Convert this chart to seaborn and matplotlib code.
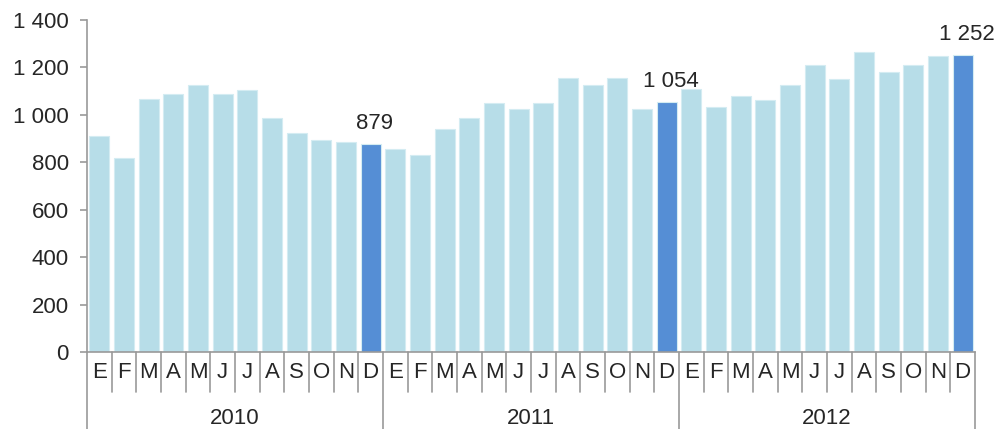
import matplotlib.pyplot as plt
import matplotlib.transforms as mtransforms
import pandas as pd
import seaborn as sns

years = ["2010", "2011", "2012"]
months = ["E", "F", "M", "A", "M", "J", "J", "A", "S", "O", "N", "D"]

values_2010 = [911, 818, 1065, 1088, 1126, 1088, 1103, 987, 924, 894, 886, 879]
values_2011 = [855, 831, 940, 987, 1049, 1026, 1049, 1157, 1126, 1157, 1026, 1054]
values_2012 = [1111, 1033, 1080, 1064, 1126, 1210, 1150, 1265, 1181, 1210, 1250, 1252]

light_blue = "#B7DDE8"
dark_blue = "#558ED5"
axis_grey = "#999999"

sns.set_style("white")
plt.rcParams["font.family"] = ["Liberation Sans", "DejaVu Sans"]
fs = 16

# tabla larga: una fila por mes
rows = []
for y, vals in zip(years, [values_2010, values_2011, values_2012]):
    for i, (m, v) in enumerate(zip(months, vals)):
        rows.append({"año": y, "mes": m, "valor": v,
                     "tipo": "dic" if i == 11 else "normal"})
df = pd.DataFrame(rows)
df["pos"] = [str(i) for i in range(len(df))]

fig = plt.figure(figsize=(9.98, 4.29), dpi=100)
ax = fig.add_axes([87 / 998, 77 / 429, (975 - 87) / 998, 332 / 429])

sns.barplot(
    data=df, x="pos", y="valor", hue="tipo",
    palette={"normal": light_blue, "dic": dark_blue}, saturation=1,
    dodge=False, width=0.8, legend=False, ax=ax,
    edgecolor="#D4ECF2", linewidth=0.8,
)

ax.set_xlim(-0.5, len(df) - 0.5)
ax.set_ylim(0, 1400)
ax.set_yticks(range(0, 1401, 200))
ax.set_yticklabels([f"{t:,}".replace(",", " ") for t in range(0, 1401, 200)], fontsize=fs)
ax.tick_params(axis="y", length=5, color=axis_grey, width=1.2, pad=8, left=True)
ax.set_xticks([])
ax.set_xlabel("")
ax.set_ylabel("")

sns.despine(ax=ax, top=True, right=True)
for s in ["left", "bottom"]:
    ax.spines[s].set_color(axis_grey)
    ax.spines[s].set_linewidth(1.2)

# etiquetas de diciembre
for _, r in df[df["tipo"] == "dic"].iterrows():
    ax.annotate(f"{r['valor']:,}".replace(",", " "), (int(r["pos"]), r["valor"]),
                xytext=(3, 7), textcoords="offset points",
                ha="center", va="bottom", fontsize=fs)

# eje x en dos niveles (meses / años)
trans = mtransforms.blended_transform_factory(ax.transData, ax.transAxes)
n = len(df)
for b in range(n + 1):
    x = b - 0.5
    bottom = -0.232 if b % 12 == 0 else -0.12
    ax.plot([x, x], [0, bottom], color=axis_grey, lw=1.2, transform=trans, clip_on=False)

for i, m in enumerate(df["mes"]):
    ax.text(i, -0.062, m, transform=trans, ha="center", va="center", fontsize=fs)

for j, y in enumerate(years):
    ax.text(j * 12 + 5.5, -0.2, y, transform=trans, ha="center", va="center", fontsize=fs)

fig.savefig("out.png", dpi=100)
